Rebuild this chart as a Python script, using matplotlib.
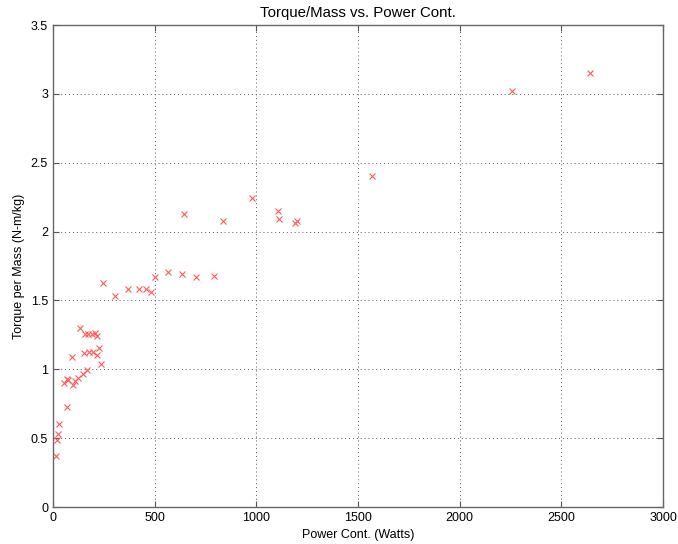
import matplotlib
matplotlib.use('Agg')
import matplotlib.pyplot as plt
from matplotlib import rcParams

rcParams['font.family'] = ['Liberation Sans', 'DejaVu Sans']
rcParams['font.size'] = 9

# 数据 (功率 W, 扭矩/质量 N-m/kg)
power = [16, 21, 23, 31, 67, 56, 67, 73, 100, 108, 124, 149, 170, 95, 154,
         178, 198, 215, 226, 236, 133, 157, 174, 190, 206, 216, 244, 303,
         369, 424, 457, 482, 501, 568, 637, 703, 794, 644, 834, 981, 1107,
         1110, 1189, 1200, 1569, 2257, 2639]
torque_mass = [0.37, 0.487, 0.528, 0.603, 0.728, 0.903, 0.932, 0.92, 0.886,
               0.917, 0.934, 0.966, 0.995, 1.091, 1.116, 1.128, 1.128, 1.104,
               1.155, 1.036, 1.298, 1.256, 1.256, 1.256, 1.261, 1.242, 1.629,
               1.532, 1.586, 1.586, 1.586, 1.561, 1.673, 1.704, 1.692, 1.673,
               1.678, 2.128, 2.079, 2.242, 2.152, 2.089, 2.065, 2.077, 2.406,
               3.021, 3.154]

fig = plt.figure(figsize=(6.78, 5.44), dpi=100)
ax = fig.add_axes([0.078, 0.068, 0.9, 0.886])

ax.plot(power, torque_mass, linestyle='none', marker='x', color='#ff5a5a',
        markersize=5, markeredgewidth=0.8)

ax.set_xlim(0, 3000)
ax.set_ylim(0, 3.5)
ax.set_xticks(range(0, 3001, 500))
ax.set_yticks([0, 0.5, 1, 1.5, 2, 2.5, 3, 3.5])
ax.set_yticklabels(['0', '0.5', '1', '1.5', '2', '2.5', '3', '3.5'])
ax.tick_params(direction='in', top=True, right=True, length=4, colors='#555555',
               labelcolor='black')
for s in ax.spines.values():
    s.set_color('#666666')
    s.set_linewidth(1)

ax.grid(True, linestyle=(0, (1, 3)), color='#555555', linewidth=0.7)

ax.set_xlabel('Power Cont. (Watts)')
ax.set_ylabel('Torque per Mass (N-m/kg)')
ax.set_title('Torque/Mass vs. Power Cont.')

fig.savefig('out.png', dpi=100)
